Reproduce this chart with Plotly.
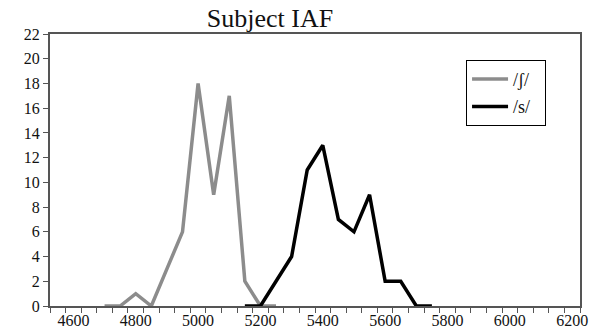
import plotly.graph_objects as go

title_text = "Subject IAF"
x_sh = [4700, 4750, 4800, 4850, 4900, 4950, 5000, 5050, 5100, 5150, 5200, 5250]
y_sh = [0, 0, 1, 0, 3, 6, 18, 9, 17, 2, 0, 0]
x_s = [5150, 5200, 5250, 5300, 5350, 5400, 5450, 5500, 5550, 5600, 5650, 5700, 5750]
y_s = [0, 0, 2, 4, 11, 13, 7, 6, 9, 2, 2, 0, 0]
x_ticks = [4600, 4800, 5000, 5200, 5400, 5600, 5800, 6000, 6200]
y_ticks = list(range(0, 23, 2))
legend_names = ["/ʃ/\u00a0\u00a0", "/s/\u00a0\u00a0"]

font_family = "Liberation Serif, Times New Roman, serif"

fig = go.Figure()
fig.add_trace(go.Scatter(x=x_sh, y=y_sh, mode="lines", name=legend_names[0], legendgroup="a",
                         line=dict(color="#8c8c8c", width=3.5)))
fig.add_trace(go.Scatter(x=x_s, y=y_s, mode="lines", name=legend_names[1], legendgroup="b",
                         line=dict(color="#000000", width=3.5)))

fig.update_layout(
    width=593, height=329,
    margin=dict(l=50, r=13, t=34, b=23),
    paper_bgcolor="white", plot_bgcolor="white",
    font=dict(family=font_family, color="#111111", size=16),
    title=dict(text=title_text, x=270/593, xanchor="center", y=0.945, yanchor="middle",
               font=dict(family=font_family, size=26, color="#111111")),
    showlegend=True,
    legend=dict(x=0.785, y=0.905, xanchor="left", yanchor="top",
                bordercolor="#000000", borderwidth=1, bgcolor="white",
                font=dict(family=font_family, size=18, color="#111111"),
                itemwidth=36, tracegroupgap=1),
)
fig.update_xaxes(
    range=[4525, 6225], tickvals=x_ticks, ticks="", showgrid=False, zeroline=False,
    showline=True, linecolor="#555555", linewidth=2, mirror=True, automargin=False,
    tickfont=dict(family=font_family, size=16, color="#111111"), ticklabelstandoff=-1,
    minor=dict(tick0=4525, dtick=50, ticks="outside", ticklen=5, tickcolor="#555555", tickwidth=1, showgrid=False),
)
fig.update_yaxes(
    range=[0, 22], tickvals=y_ticks, ticks="outside", ticklen=5, tickcolor="#555555", tickwidth=1,
    showgrid=False, zeroline=False, showline=True, linecolor="#555555", linewidth=2, mirror=True,
    automargin=False,
    tickfont=dict(family=font_family, size=16, color="#111111"),
)

fig.write_html("out.html")
